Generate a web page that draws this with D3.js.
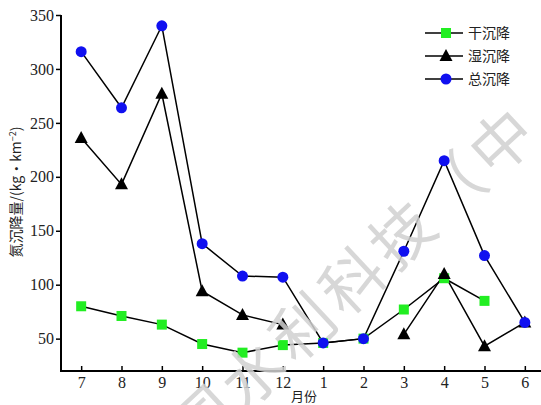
<!DOCTYPE html>
<html>
<head>
<meta charset="utf-8">
<script src="https://cdn.jsdelivr.net/npm/d3@7"></script>
<style>
  body { margin: 0; background: #fff; }
  svg { display: block; }
</style>
</head>
<body>
<div id="chart-area"></div>
<script>
// Datos
var months = ["7", "8", "9", "10", "11", "12", "1", "2", "3", "4", "5", "6"];
var dryValues = [80, 71, 63, 45, 37, 44, 46, 50, 77, 106, 85, null];
var wetValues = [236, 193, 277, 94, 72, 63, null, null, 54, 110, 43, 65];
var totalValues = [316, 264, 340, 138, 108, 107, 46, 50, 131, 215, 127, 65];
var yTicks = [50, 100, 150, 200, 250, 300, 350];
var seriesNames = ["干沉降", "湿沉降", "总沉降"];

var width = 541;
var height = 405;

var svg = d3.select("#chart-area")
    .append("svg")
    .attr("width", width)
    .attr("height", height);

var g = svg.append("g");

// Escalas
var x = d3.scalePoint()
    .domain(months)
    .range([61, 545])
    .padding(0.5);

var y = d3.scaleLinear()
    .domain([20, 350])
    .range([371, 15]);

// Ejes
var bottomAxis = d3.axisBottom(x).tickSizeInner(-5).tickSizeOuter(0).tickPadding(6);
var xAxisG = g.append("g")
    .attr("transform", "translate(0,371)")
    .call(bottomAxis);
xAxisG.select(".domain").attr("stroke", "#000").attr("stroke-width", 2)
    .attr("d", "M61,0H541");
xAxisG.selectAll("line").attr("stroke-width", 1.5);
xAxisG.selectAll("text")
    .attr("font-family", "Liberation Serif")
    .attr("font-size", "16px")
    .attr("fill", "#222");

var leftAxis = d3.axisLeft(y).tickValues(yTicks).tickSizeInner(5).tickSizeOuter(0).tickPadding(2);
var yAxisG = g.append("g")
    .attr("transform", "translate(61,0)")
    .call(leftAxis);
yAxisG.select(".domain").attr("stroke", "#000").attr("stroke-width", 2)
    .attr("d", "M0,15V372");
yAxisG.selectAll("line").attr("stroke-width", 1.5);
yAxisG.selectAll("text")
    .attr("font-family", "Liberation Serif")
    .attr("font-size", "16px")
    .attr("fill", "#222");

// Etiquetas de ejes
svg.append("text")
    .attr("x", 304)
    .attr("y", 401)
    .attr("text-anchor", "middle")
    .attr("font-family", "Noto Sans CJK SC")
    .attr("font-size", "13px")
    .attr("fill", "#222")
    .text("月份");

var yLabel = svg.append("text")
    .attr("transform", "translate(21,192) rotate(-90)")
    .attr("text-anchor", "middle")
    .attr("font-family", "Noto Sans CJK SC, Liberation Serif")
    .attr("font-size", "14px")
    .attr("fill", "#222");
yLabel.append("tspan").text("氮沉降量/(kg·km");
yLabel.append("tspan").attr("dy", "-5").attr("font-size", "9px").text("−2");
yLabel.append("tspan").attr("dy", "5").text(")");

// Lineas
var line = d3.line()
    .defined(function(d) { return d != null; })
    .x(function(d, i) { return x(months[i]); })
    .y(function(d) { return y(d); });

var series = [
    {values: dryValues, type: "square", color: "#22ee22"},
    {values: wetValues, type: "triangle", color: "#000"},
    {values: totalValues, type: "circle", color: "#1010f0"}
];

function drawMarker(sel, type, color, cx, cy) {
    if (type === "square") {
        sel.append("rect")
            .attr("x", cx - 5).attr("y", cy - 5)
            .attr("width", 10).attr("height", 10)
            .attr("fill", color);
    } else if (type === "triangle") {
        sel.append("path")
            .attr("d", "M" + cx + "," + (cy - 7) + "L" + (cx + 6.5) + "," + (cy + 5) + "L" + (cx - 6.5) + "," + (cy + 5) + "Z")
            .attr("fill", color);
    } else {
        sel.append("circle")
            .attr("cx", cx).attr("cy", cy).attr("r", 5.5)
            .attr("fill", color);
    }
}

series.forEach(function(s) {
    g.append("path")
        .datum(s.values)
        .attr("d", line)
        .attr("fill", "none")
        .attr("stroke", "#000")
        .attr("stroke-width", 1.5);
});

series.forEach(function(s) {
    var mg = g.append("g");
    s.values.forEach(function(v, i) {
        if (v == null) return;
        drawMarker(mg, s.type, s.color, x(months[i]), y(v));
    });
});

// Leyenda
var legend = svg.append("g");
series.forEach(function(s, i) {
    var ly = 33 + i * 23;
    legend.append("line")
        .attr("x1", 425).attr("x2", 463)
        .attr("y1", ly).attr("y2", ly)
        .attr("stroke", "#000").attr("stroke-width", 1.5);
    drawMarker(legend, s.type, s.color, 446, ly);
    legend.append("text")
        .attr("x", 468)
        .attr("y", ly + 5)
        .attr("font-family", "Noto Sans CJK SC")
        .attr("font-size", "14px")
        .attr("fill", "#222")
        .text(seriesNames[i]);
});

// Marca de agua (encima del grafico)
svg.append("text")
    .attr("transform", "translate(196,458) rotate(-43)")
    .attr("font-family", "Noto Sans CJK SC")
    .attr("font-size", "62px")
    .attr("letter-spacing", "6px")
    .attr("fill", "#d0d0d0")
    .attr("fill-opacity", 0.85)
    .text("国水利科技（中");
</script>
</body>
</html>
